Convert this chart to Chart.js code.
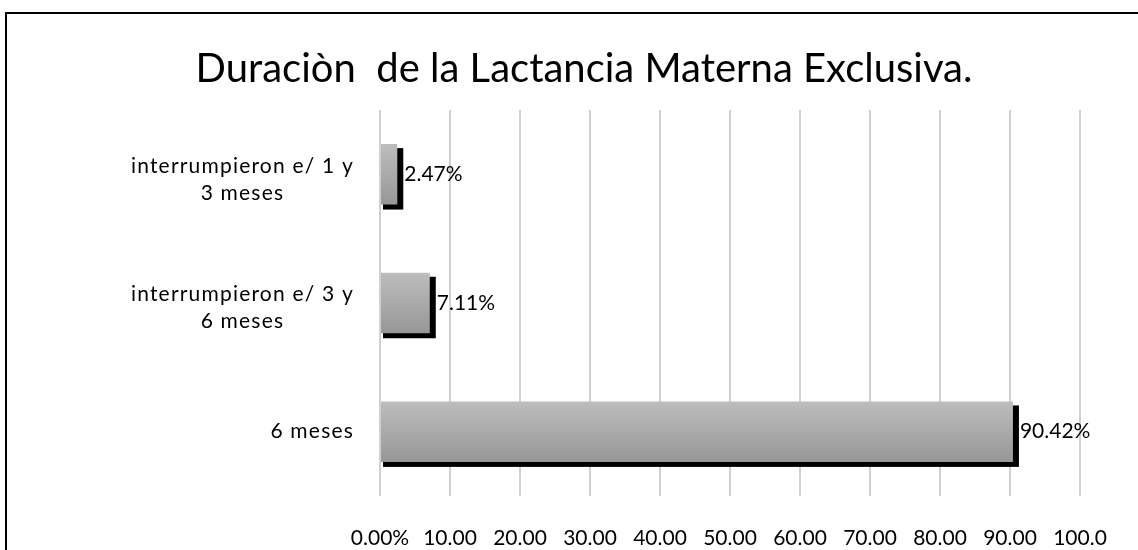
<!DOCTYPE html>
<html>
<head>
<meta charset="utf-8">
<script src="https://cdn.jsdelivr.net/npm/chart.js@4/dist/chart.umd.min.js"></script>
<style>
  html, body { margin: 0; padding: 0; background: #fff; }
  #wrap { width: 1138px; height: 550px; position: relative; }
</style>
</head>
<body>
<div id="wrap"><canvas id="chart-lactancia"></canvas></div>
<script>
  // datos del gráfico
  var categories = [
    ["interrumpieron e/ 1 y", "3 meses"],
    ["interrumpieron e/ 3 y", "6 meses"],
    "6 meses"
  ];
  var percentages = [2.47, 7.11, 90.42];
  var tickLabels = ["0.00%", "10.00", "20.00", "30.00", "40.00", "50.00", "60.00", "70.00", "80.00", "90.00", "100.0"];
  var chartTitle = "Duraciòn  de la Lactancia Materna Exclusiva.";

  var FONT = "Lato, 'Open Sans', sans-serif";
  var LABEL_SPACING = "1.2px";

  function barGradient(context) {
    var chart = context.chart;
    if (!chart.chartArea) return "#aaaaaa";
    var y = chart.scales.y;
    var band = (y.bottom - y.top) / categories.length * 0.47;
    var c = y.getPixelForValue(context.dataIndex);
    var g = chart.ctx.createLinearGradient(0, c - band / 2, 0, c + band / 2);
    g.addColorStop(0, "#bdbdbd");
    g.addColorStop(1, "#979797");
    return g;
  }

  // marco exterior
  var framePlugin = {
    id: "frame",
    beforeDraw: function (chart) {
      var ctx = chart.ctx;
      ctx.save();
      ctx.fillStyle = "#fff";
      ctx.fillRect(0, 0, chart.width, chart.height);
      ctx.strokeStyle = "#000";
      ctx.lineWidth = 2;
      ctx.strokeRect(6, 13, chart.width + 20, chart.height + 20);
      ctx.restore();
    }
  };

  // sombra negra detrás de cada barra (un poco más ancha y desplazada)
  var shadowPlugin = {
    id: "barShadow",
    beforeDatasetsDraw: function (chart) {
      var ctx = chart.ctx;
      var meta = chart.getDatasetMeta(0);
      ctx.save();
      ctx.fillStyle = "#000";
      meta.data.forEach(function (bar) {
        var top = bar.y - bar.height / 2;
        var bottom = bar.y + bar.height / 2;
        ctx.fillRect(bar.base + 2, top + 4, bar.x + 6 - (bar.base + 2), bottom + 5 - (top + 4));
      });
      ctx.restore();
    }
  };

  // etiquetas de valor
  var valueLabels = {
    id: "valueLabels",
    afterDatasetsDraw: function (chart) {
      var ctx = chart.ctx;
      var meta = chart.getDatasetMeta(0);
      ctx.save();
      ctx.font = "21px " + FONT;
      ctx.fillStyle = "#000";
      ctx.textAlign = "left";
      ctx.textBaseline = "middle";
      meta.data.forEach(function (bar, i) {
        ctx.fillText(percentages[i].toFixed(2) + "%", bar.x + 7, bar.y);
      });
      ctx.restore();
    }
  };

  // categorías: espaciado de letras y líneas centradas entre sí (como Excel)
  var spacedTicks = {
    id: "spacedTicks",
    afterLayout: function (chart) {
      var s = chart.scales.y;
      if (s._spaced) return;
      s._spaced = true;
      var proto = Object.getPrototypeOf(s);
      s.getLabelItems = function (area) {
        var items = proto.getLabelItems.call(this, area);
        var ctx = this.ctx;
        items.forEach(function (it) {
          if (it._centered || !Array.isArray(it.label)) return;
          it._centered = true;
          ctx.save();
          ctx.font = it.font.string;
          ctx.letterSpacing = LABEL_SPACING;
          var w = 0;
          it.label.forEach(function (line) { w = Math.max(w, ctx.measureText(line).width); });
          ctx.restore();
          it.options.textAlign = "center";
          it.options.translation[0] -= w / 2;
          it.options.translation[1] += 5;
        });
        return items;
      };
      s.drawLabels = function (area) {
        var ctx = this.ctx;
        ctx.save();
        ctx.letterSpacing = LABEL_SPACING;
        proto.drawLabels.call(this, area);
        ctx.restore();
      };
    }
  };

  new Chart(document.getElementById("chart-lactancia").getContext("2d"), {
    type: "bar",
    data: {
      labels: categories,
      datasets: [
        {
          data: percentages,
          backgroundColor: barGradient,
          borderWidth: 0,
          barPercentage: 0.94,
          categoryPercentage: 0.5
        }
      ]
    },
    options: {
      indexAxis: "y",
      responsive: true,
      maintainAspectRatio: false,
      animation: false,
      layout: { padding: { left: 88, right: 58, top: 0, bottom: 0 } },
      plugins: {
        legend: { display: false },
        tooltip: { enabled: false },
        title: {
          display: true,
          text: chartTitle,
          color: "#000",
          font: { family: FONT, size: 40, weight: "normal", lineHeight: 1.2 },
          padding: { top: 45, bottom: 17 }
        }
      },
      scales: {
        x: {
          min: 0,
          max: 100,
          afterFit: function (s) { s.height = 54; },
          border: { display: false },
          grid: { color: "#d0d0d0", lineWidth: 2, drawTicks: false },
          ticks: {
            stepSize: 10,
            color: "#000",
            padding: 30,
            maxRotation: 0,
            autoSkip: false,
            font: { family: FONT, size: 21 },
            callback: function (v, i) { return tickLabels[i]; }
          }
        },
        y: {
          afterFit: function (s) { s.width = 292; },
          border: { display: false },
          grid: { display: false, drawTicks: false },
          ticks: {
            color: "#000",
            padding: 26,
            font: { family: FONT, size: 21, lineHeight: 1.29 }
          }
        }
      }
    },
    plugins: [framePlugin, shadowPlugin, valueLabels, spacedTicks]
  });
</script>
</body>
</html>
